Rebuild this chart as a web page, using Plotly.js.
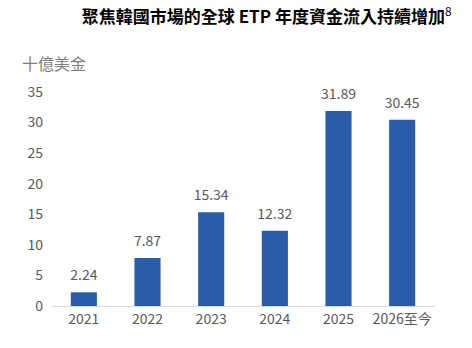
<!DOCTYPE html>
<html><head><meta charset="utf-8">
<script src="https://cdn.plot.ly/plotly-3.0.1.min.js"></script>
<style>html,body{margin:0;padding:0;background:#fff}#c{width:472px;height:348px}</style>
</head><body><div id="c"></div>
<script>
const categories = ["2021","2022","2023","2024","2025","2026至今"];
const values = [2.24, 7.87, 15.34, 12.32, 31.89, 30.45];
const labels = ["2.24","7.87","15.34","12.32","31.89","30.45"];
const yTicks = [0,5,10,15,20,25,30,35];

const font = "'Noto Sans CJK TC','Noto Sans CJK SC',Calibri,'Liberation Sans',sans-serif";
Plotly.newPlot('c', [{
  type:'bar', x:categories, y:values,
  marker:{color:'#2A5CAA'}, hoverinfo:'none'
},{
  type:'scatter', mode:'markers+text', x:categories, y:values, text:labels, textposition:'top center',
  marker:{size:12, opacity:0},
  textfont:{size:14,color:'#595959',family:font}, cliponaxis:false, hoverinfo:'none'
}], {
  width:472, height:348, margin:{l:52,r:38,t:92,b:42},
  paper_bgcolor:'#fff', plot_bgcolor:'#fff', bargap:0.59, showlegend:false,
  font:{family:font,color:'#595959'},
  title:{text:'<b>聚焦韓國市場的全球 ETP 年度資金流入持續增加</b><sup>8</sup>', x:0.565, xanchor:'center', y:0.952, yanchor:'middle', font:{size:17,color:'#000',family:font}},
  xaxis:{type:'category', showgrid:false, showline:true, linecolor:'#d9d9d9', linewidth:1, ticks:'', tickfont:{size:14,color:'#595959'}, zeroline:false},
  yaxis:{range:[0,35], tickvals:yTicks, showgrid:false, showline:false, zeroline:false, ticks:'', ticklabelstandoff:8, tickfont:{size:14,color:'#595959'}},
  annotations:[{text:'十億美金', xref:'paper', yref:'paper', x:-0.085, y:1.135, xanchor:'left', yanchor:'middle', showarrow:false, font:{size:16,color:'#7f7f7f',family:font}}]
}, {staticPlot:true});
</script></body></html>
